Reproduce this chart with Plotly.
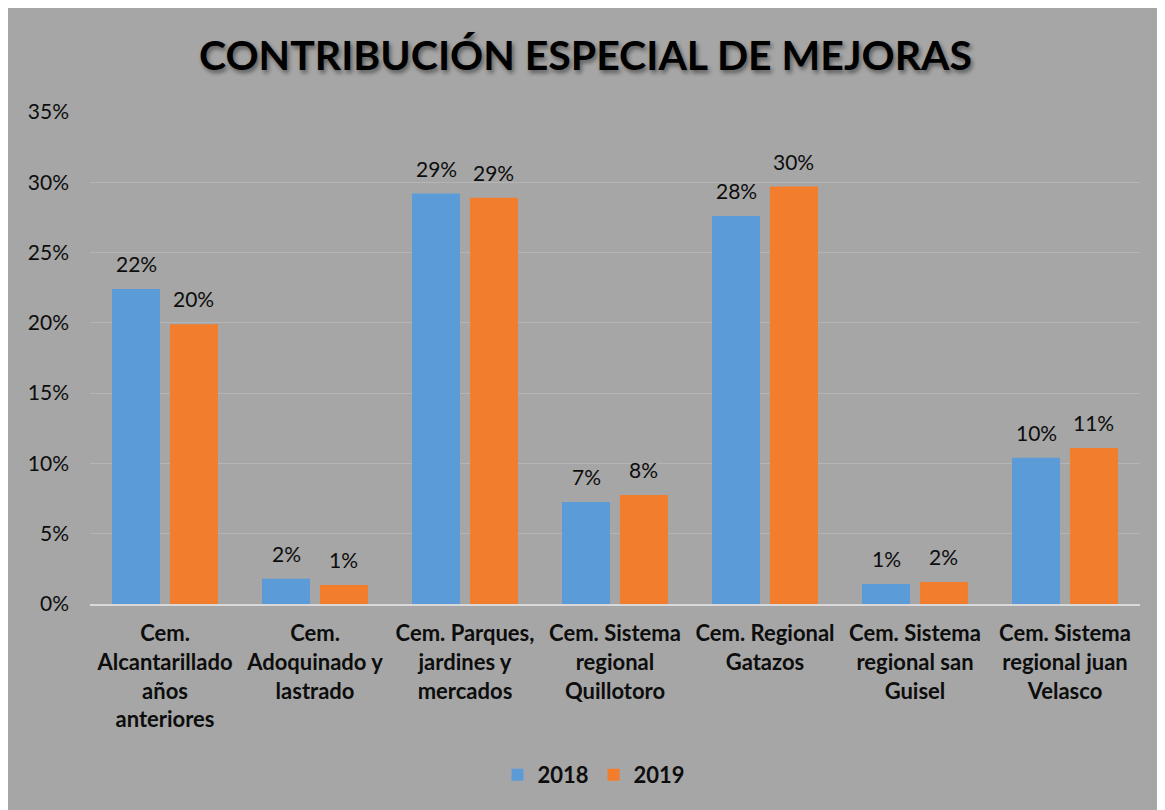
import plotly.graph_objects as go

# categories and values
categorias = [
    "Cem.<br>Alcantarillado<br>años<br>anteriores",
    "Cem.<br>Adoquinado y<br>lastrado",
    "Cem. Parques,<br>jardines y<br>mercados",
    "Cem. Sistema<br>regional<br>Quillotoro",
    "Cem. Regional<br>Gatazos",
    "Cem. Sistema<br>regional san<br>Guisel",
    "Cem. Sistema<br>regional juan<br>Velasco",
]
valores_2018 = [0.224, 0.018, 0.292, 0.0725, 0.276, 0.0142, 0.104]
valores_2019 = [0.199, 0.0135, 0.289, 0.0775, 0.297, 0.0156, 0.111]
ticks_y = [0, 0.05, 0.10, 0.15, 0.20, 0.25, 0.30, 0.35]
ticks_y_txt = ["0%", "5%", "10%", "15%", "20%", "25%", "30%", "35%"]

FONT = "Lato"
GRIS = "#A6A6A6"
W, H = 1155, 805
L, R, T, B = 82, 23, 104, 209
BARGAP, GROUPGAP = 0.227, 0.172

fig = go.Figure()
fig.add_trace(go.Bar(name="2018", x=categorias, y=valores_2018,
                     marker=dict(color="#5B9BD8", line=dict(width=0))))
fig.add_trace(go.Bar(name="2019", x=categorias, y=valores_2019,
                     marker=dict(color="#F27E2D", line=dict(width=0))))

# data labels a bit above each bar, like the original
ancho_cat = (W - L - R) / len(categorias)
desplaz = ancho_cat * (1 - BARGAP) / 4
for serie, signo in ((valores_2018, -1), (valores_2019, 1)):
    for cat, v in zip(categorias, serie):
        fig.add_annotation(x=cat, y=v, xref="x", yref="y",
                           text=f"{v:.0%}", showarrow=False,
                           xanchor="center", yanchor="bottom",
                           xshift=signo * desplaz, yshift=11,
                           font=dict(family=FONT, size=21, color="#0D0D0D"))

fig.update_layout(
    width=W, height=H,
    margin=dict(l=L, r=R, t=T, b=B),
    paper_bgcolor=GRIS,
    plot_bgcolor=GRIS,
    barmode="group",
    bargap=BARGAP,
    bargroupgap=GROUPGAP,
    title=dict(
        text="<b>CONTRIBUCIÓN ESPECIAL DE MEJORAS</b>",
        x=0.5, xref="container", xanchor="center",
        y=1 - 48 / H, yref="container", yanchor="middle",
        font=dict(family=FONT, size=41, color="#000000",
                  shadow="2px 3px 4px rgba(0,0,0,0.45)"),
    ),
    font=dict(family=FONT, size=21, color="#0D0D0D"),
    showlegend=True,
    legend=dict(
        orientation="h", x=0.48, xanchor="center",
        y=-0.3476, yanchor="middle",
        font=dict(family=FONT, size=22, color="#0D0D0D", weight="bold"),
        bgcolor="rgba(0,0,0,0)", itemwidth=30,
    ),
)

fig.update_yaxes(
    range=[0, 0.35], tickvals=ticks_y, ticktext=ticks_y_txt,
    showgrid=True, gridcolor="#B5B5B5", gridwidth=1,
    zeroline=False, showline=False, ticks="",
    ticklabelstandoff=20,
    tickfont=dict(family=FONT, size=21, color="#0D0D0D"),
)
fig.update_xaxes(
    showline=True, linecolor="#D9D9D9", linewidth=2,
    showgrid=False, ticks="", tickangle=0,
    ticklabelstandoff=9,
    tickfont=dict(family=FONT, size=22, color="#0D0D0D", weight="bold"),
)

fig.write_html("out.html")
